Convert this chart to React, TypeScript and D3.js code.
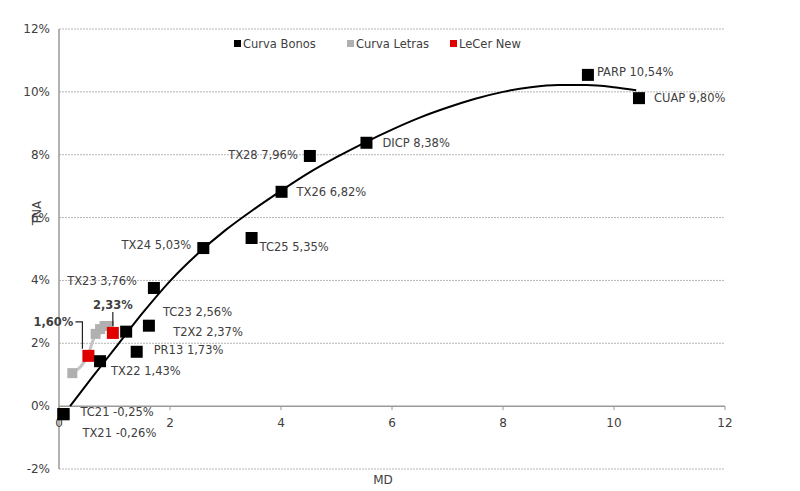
import React from "react";
import * as d3 from "d3";

// Curva Bonos
const bondNames = ["TC21", "TX21", "TX22", "T2X2", "PR13", "TC23", "TX23", "TX24", "TC25", "TX26", "TX28", "DICP", "PARP", "CUAP"];
const bondMD = [0.08, 0.08, 0.74, 1.21, 1.4, 1.62, 1.71, 2.6, 3.47, 4.01, 4.52, 5.54, 9.53, 10.45];
const bondTNA = [-0.25, -0.26, 1.43, 2.37, 1.73, 2.56, 3.76, 5.03, 5.35, 6.82, 7.96, 8.38, 10.54, 9.8];

// Curva Letras
const letrasMD = [0.24, 0.52, 0.66, 0.74, 0.82, 0.9];
const letrasTNA = [1.05, 1.62, 2.3, 2.45, 2.55, 2.55];

// LeCer New
const lecerMD = [0.53, 0.97];
const lecerTNA = [1.6, 2.33];

// Trend line of Curva Bonos
const trendMD = [0.2, 0.6, 1.0, 1.5, 2.0, 2.5, 3.0, 3.5, 4.0, 4.5, 5.0, 5.5, 6.0, 6.5, 7.0, 7.5, 8.0, 8.5, 9.0, 9.5, 10.0, 10.4];
const trendTNA = [0.0, 0.92, 1.82, 2.95, 3.98, 4.85, 5.6, 6.25, 6.85, 7.42, 7.92, 8.38, 8.8, 9.18, 9.5, 9.78, 10.0, 10.15, 10.22, 10.22, 10.15, 10.05];

const xTicks = [0, 2, 4, 6, 8, 10, 12];
const yTicks = [-2, 0, 2, 4, 6, 8, 10, 12];

const legendItems = ["Curva Bonos", "Curva Letras", "LeCer New"];

// label placement (dx, dy, anchor) per bond
const bondLabelPos: [number, number, string][] = [
  [17, 2, "start"],
  [19, 23, "start"],
  [11, 14, "start"],
  [47, 4, "start"],
  [17, 2, "start"],
  [14, -10, "start"],
  [-17, -3, "end"],
  [-12, 1, "end"],
  [8, 13, "start"],
  [15, 4, "start"],
  [-12, 3, "end"],
  [16, 4, "start"],
  [9, 1, "start"],
  [15, 4, "start"],
];

const fmt = (v: number) => v.toFixed(2).replace(".", ",") + "%";

export default function App() {
  const W = 800;
  const H = 491;
  const x = d3.scaleLinear().domain([0, 12]).range([59, 725]);
  const y = d3.scaleLinear().domain([-2, 12]).range([469, 29]);

  const line = d3
    .line<[number, number]>()
    .x((d) => x(d[0]))
    .y((d) => y(d[1]))
    .curve(d3.curveMonotoneX);

  const trendPath = line(trendMD.map((m, i) => [m, trendTNA[i]]) as [number, number][]) || "";
  const letrasPath = line(letrasMD.map((m, i) => [m, letrasTNA[i]]) as [number, number][]) || "";

  const font = "'DejaVu Sans', Verdana, sans-serif";
  const textColor = "#404040";
  const sq = 12;

  const legendX = [237, 350, 453];
  const legendColors = ["#000000", "#b0b0b0", "#e00000"];

  const r0x = x(lecerMD[0]);
  const r0y = y(lecerTNA[0]);
  const r1x = x(lecerMD[1]);
  const r1y = y(lecerTNA[1]);

  return (
    <svg
      width={W}
      height={H}
      style={{ position: "absolute", left: 0, top: 0, background: "#fff" }}
      fontFamily={font}
    >
      <rect x={0} y={0} width={W} height={H} fill="#fff" />
      {/* gridlines */}
      {yTicks
        .filter((t) => t !== 0)
        .map((t) => (
          <line
            key={"g" + t}
            x1={x(0)}
            x2={x(12)}
            y1={y(t)}
            y2={y(t)}
            stroke="#b5b5b5"
            strokeWidth={1}
            strokeDasharray="2,1"
          />
        ))}
      {/* axes */}
      <line x1={x(0)} x2={x(0)} y1={y(12)} y2={y(-2)} stroke="#9a9a9a" strokeWidth={1.5} />
      <line x1={x(0)} x2={x(12)} y1={y(0)} y2={y(0)} stroke="#9a9a9a" strokeWidth={1.5} />
      {xTicks.map((t) => (
        <g key={"xt" + t}>
          <line x1={x(t)} x2={x(t)} y1={y(0)} y2={y(0) + 4} stroke="#9a9a9a" strokeWidth={1} />
          <text x={x(t)} y={y(0) + 21} textAnchor="middle" fontSize={12} fill={textColor}>
            {t}
          </text>
        </g>
      ))}
      {yTicks.map((t) => (
        <text key={"yt" + t} x={50} y={y(t) + 4} textAnchor="end" fontSize={12} fill={textColor}>
          {t + "%"}
        </text>
      ))}
      {/* axis titles */}
      <text x={41} y={213} transform="rotate(-90 41 213)" textAnchor="middle" fontSize={12} fill={textColor}>
        TNA
      </text>
      <text x={383} y={484} textAnchor="middle" fontSize={12} fill={textColor}>
        MD
      </text>

      {/* Letras curve */}
      <path d={letrasPath} fill="none" stroke="#c4c4c4" strokeWidth={3} />
      {letrasMD.map((m, i) => (
        <rect
          key={"l" + i}
          x={x(m) - 5}
          y={y(letrasTNA[i]) - 5}
          width={10}
          height={10}
          fill="#b0b0b0"
        />
      ))}

      {/* trend line */}
      <path d={trendPath} fill="none" stroke="#000" strokeWidth={2} />

      {/* LeCer */}
      {lecerMD.map((m, i) => (
        <rect
          key={"r" + i}
          x={x(m) - sq / 2}
          y={y(lecerTNA[i]) - sq / 2}
          width={sq}
          height={sq}
          fill="#e00000"
        />
      ))}

      {/* bonds */}
      {bondMD.map((m, i) => (
        <rect
          key={"b" + i}
          x={x(m) - sq / 2}
          y={y(bondTNA[i]) - sq / 2}
          width={sq}
          height={sq}
          fill="#000"
        />
      ))}
      {bondMD.map((m, i) => {
        const [dx, dy, anchor] = bondLabelPos[i];
        return (
          <text
            key={"bl" + i}
            x={x(m) + dx}
            y={y(bondTNA[i]) + dy}
            textAnchor={anchor as any}
            fontSize={11.5}
            fill={textColor}
          >
            {bondNames[i] + " " + fmt(bondTNA[i])}
          </text>
        );
      })}

      {/* LeCer labels with leaders */}
      <polyline
        points={`${r0x - 13},${r0y - 34} ${r0x - 6},${r0y - 34} ${r0x - 6},${r0y - 7}`}
        fill="none"
        stroke="#222"
        strokeWidth={1.2}
      />
      <text x={r0x - 15} y={r0y - 30} textAnchor="end" fontSize={11.5} fontWeight="bold" fill={textColor}>
        {fmt(lecerTNA[0])}
      </text>
      <line x1={r1x} x2={r1x} y1={r1y - 21} y2={r1y - 7} stroke="#222" strokeWidth={1.2} />
      <text x={r1x} y={r1y - 24} textAnchor="middle" fontSize={11.5} fontWeight="bold" fill={textColor}>
        {fmt(lecerTNA[1])}
      </text>

      {/* legend */}
      {legendItems.map((name, i) => (
        <g key={"lg" + i}>
          <rect x={legendX[i] - 3} y={40} width={7} height={7} fill={legendColors[i]} />
          <text x={legendX[i] + 6} y={47.5} fontSize={11.5} fill={textColor}>
            {name}
          </text>
        </g>
      ))}
    </svg>
  );
}
